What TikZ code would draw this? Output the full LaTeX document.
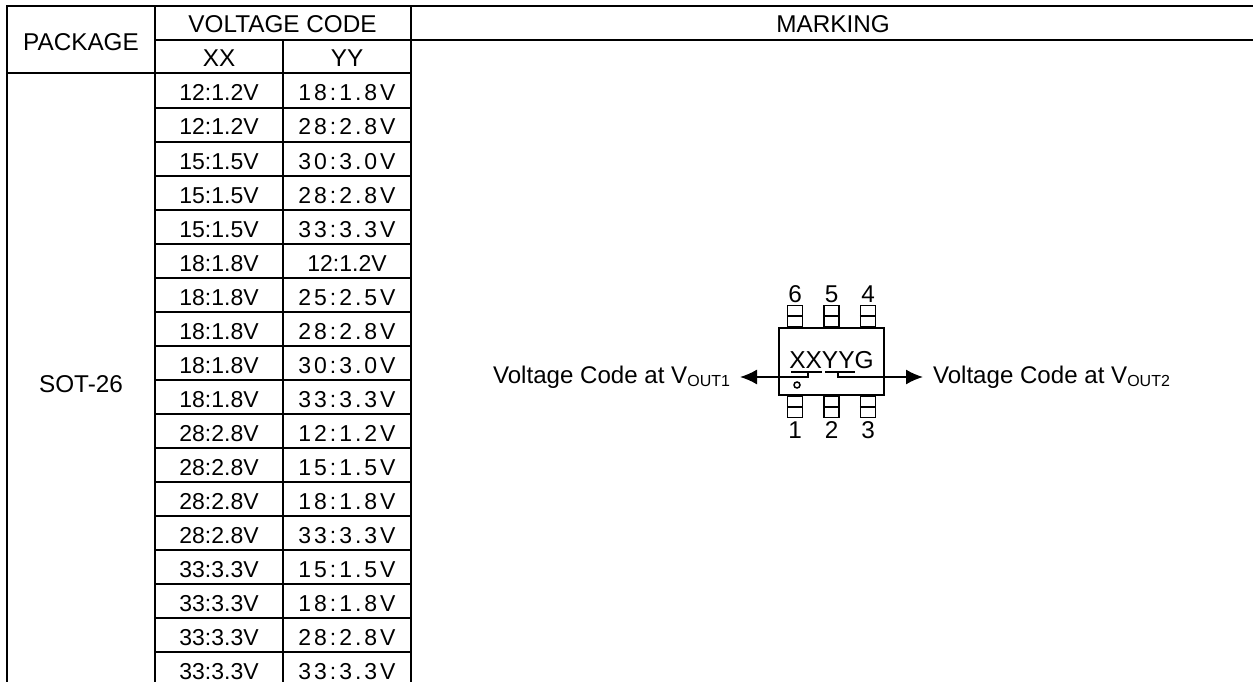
\documentclass[tikz,border=0pt]{standalone}
\usepackage{fontspec}
\setmainfont{Liberation Sans}
\newfontfamily\spaced[LetterSpace=13]{Liberation Sans}
\usetikzlibrary{arrows.meta,positioning}
\tikzset{code arrow/.style={-{Latex[length=17pt,width=15pt]},line width=1.6pt}}
\newcommand{\voutsub}[1]{\raisebox{-3pt}{\fontsize{16}{16}\selectfont #1}}

\begin{document}
\begin{tikzpicture}[
    x=1pt,
    y=-1pt,
    grid line/.style={line width=2pt},
    head node/.style={font=\fontsize{24.3}{24}\selectfont,anchor=base,inner sep=0pt},
    xx node/.style={head node,font=\fontsize{23}{23}\selectfont},
    yy node/.style={head node,font=\fontsize{23}{23}\spaced},
    chip node/.style={draw,line width=1.8pt,minimum width=105pt,minimum height=67pt,inner sep=0pt},
    pin node/.style={draw,line width=1.5pt,minimum width=15pt,minimum height=21pt,inner sep=0pt},
    number node/.style={font=\fontsize{24.3}{24}\selectfont,inner sep=0pt},
    vout node/.style={head node,font=\fontsize{24.1}{24}\selectfont,text height=17pt,text depth=5pt,outer xsep=10pt}]

  \useasboundingbox (0,0) rectangle (1253,682);

  \draw[grid line] (6,6) -- (1253,6);
  \draw[grid line] (155,40) -- (1253,40);
  \draw[grid line] (6,73) -- (411,73);
  \foreach \x in {7,155,411}
    \draw[grid line] (\x,6) -- (\x,682);
  \draw[grid line] (283,40) -- (283,682);
  \foreach \n in {0,...,16}
    \draw[grid line] (155,{108+34*\n}) -- (411,{108+34*\n});

  \node[head node] (Package) at (81,51) {PACKAGE};
  \node[head node] (VoltageCode) at (282.5,33) {VOLTAGE CODE};
  \node[head node] (Marking) at (833,33) {MARKING};
  \node[head node] (ColXX) at (219,67) {XX};
  \node[head node] (ColYY) at (347,67) {YY};
  \node[head node] (Sot) at (81,392) {SOT-26};

  \foreach \xx/\yy [count=\n from 0] in {
      12:1.2V/18:1.8V, 12:1.2V/28:2.8V, 15:1.5V/30:3.0V, 15:1.5V/28:2.8V,
      15:1.5V/33:3.3V, 18:1.8V/\normalfont 12:1.2V, 18:1.8V/25:2.5V, 18:1.8V/28:2.8V,
      18:1.8V/30:3.0V, 18:1.8V/33:3.3V, 28:2.8V/12:1.2V, 28:2.8V/15:1.5V,
      28:2.8V/18:1.8V, 28:2.8V/33:3.3V, 33:3.3V/15:1.5V, 33:3.3V/18:1.8V,
      33:3.3V/28:2.8V, 33:3.3V/33:3.3V} {
    \node[xx node] (XX\n) at (219,{101+34*\n}) {\xx};
    \node[yy node] (YY\n) at (347,{101+34*\n}) {\yy};
  }

  \node[chip node] (Chip) at (831.5,361.5) {};
  \node[pin node] (Pin5) [above=0pt of Chip] {};
  \node[pin node] (Pin6) [left=20pt of Pin5] {};
  \node[pin node] (Pin4) [right=20pt of Pin5] {};
  \node[pin node] (Pin2) [below=0pt of Chip] {};
  \node[pin node] (Pin1) [left=20pt of Pin2] {};
  \node[pin node] (Pin3) [right=20pt of Pin2] {};

  \foreach \p in {1,...,6}
    \draw[line width=1.5pt] (Pin\p.west) -- (Pin\p.east);
  \foreach \p in {4,5,6}
    \node[number node] (Num\p) [above=2pt of Pin\p] {\p};
  \foreach \p in {1,2,3}
    \node[number node] (Num\p) [below=3pt of Pin\p] {\p};

  \node[head node,font=\fontsize{24.5}{24}\selectfont] (Mark) at (831.5,368) {XXYYG};
  \node[circle,draw,line width=1.5pt,minimum size=6pt,inner sep=0pt] (Dot) at (797,385) {};

  \coordinate (XStart) at (791,372);
  \coordinate (XTap) at (808,372);
  \coordinate (XEnd) at (822,372);
  \coordinate (YStart) at (825,372);
  \coordinate (YTap) at (838,372);
  \coordinate (YEnd) at (855,372);

  \node[vout node,anchor=base east] (VoutOne) at (740,383) {Voltage Code at V\voutsub{OUT1}};
  \node[vout node,anchor=base west] (VoutTwo) at (923,383) {Voltage Code at V\voutsub{OUT2}};

  \draw[line width=1.2pt] (XStart) -- (XEnd);
  \draw[line width=1.2pt] (YStart) -- (YEnd);
  \draw[code arrow] (XTap) |- (VoutOne.east);
  \draw[code arrow] (YTap) |- (VoutTwo.west);
\end{tikzpicture}
\end{document}
